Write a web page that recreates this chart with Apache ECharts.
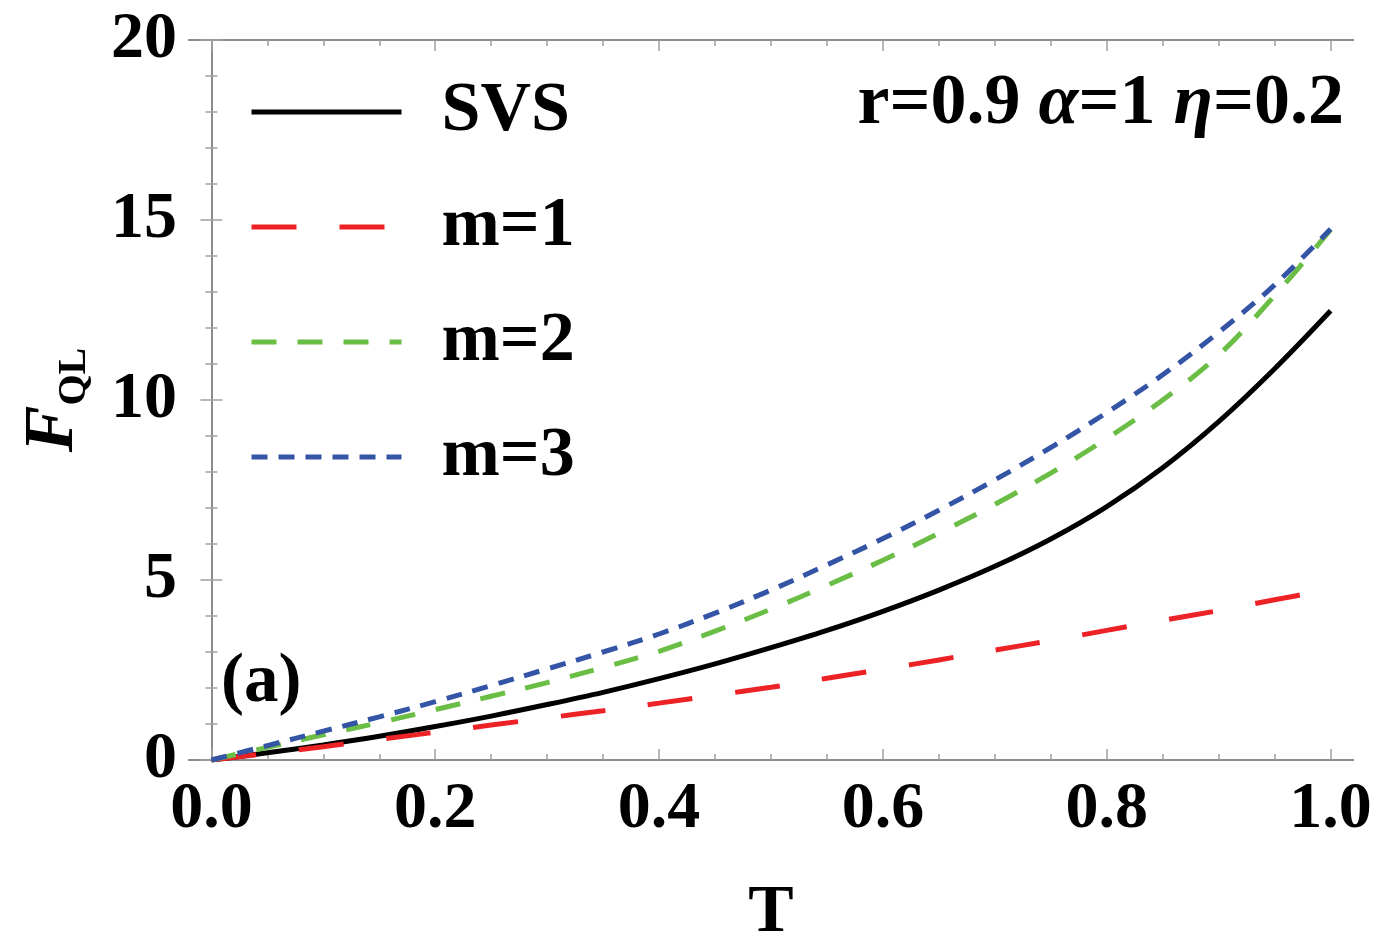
<!DOCTYPE html>
<html>
<head>
<meta charset="utf-8">
<script src="https://cdn.jsdelivr.net/npm/echarts@6/dist/echarts.min.js"></script>
<style>html,body{margin:0;padding:0;background:#fff;}#c{width:1378px;height:952px;}</style>
</head>
<body>
<div id="c"></div>
<script>
const T = [0,0.05,0.1,0.15,0.2,0.25,0.3,0.35,0.4,0.45,0.5,0.55,0.6,0.65,0.7,0.75,0.8,0.85,0.9,0.95,1.0];
const svs = [0,0.2,0.42,0.66,0.93,1.22,1.54,1.88,2.26,2.67,3.12,3.6,4.13,4.72,5.38,6.14,7.04,8.12,9.4,10.87,12.48];
const m1  = [0,0.18,0.37,0.57,0.77,0.97,1.17,1.37,1.58,1.8,2.02,2.27,2.52,2.78,3.05,3.32,3.6,3.88,4.15,4.45,4.74];
const m2  = [0,0.35,0.7,1.04,1.4,1.77,2.15,2.57,3.02,3.58,4.19,4.85,5.55,6.3,7.1,7.97,8.93,10.0,11.25,12.9,14.73];
const m3  = [0,0.4,0.8,1.2,1.62,2.07,2.53,3.0,3.5,4.08,4.72,5.42,6.15,6.94,7.78,8.68,9.65,10.7,11.88,13.2,14.75];
const seriesNames = ['SVS','m=1','m=2','m=3'];
const xMajor = [0,0.2,0.4,0.6,0.8,1.0];
const xMinor = [0.05,0.1,0.15,0.25,0.3,0.35,0.45,0.5,0.55,0.65,0.7,0.75,0.85,0.9,0.95];
const yTicks = [0,5,10,15,20];

const FONT = "'Liberation Serif','Times New Roman',serif";
const frameColor = '#8c8c8c';
const tickColor = '#a0a0a0';

function xAxisDef(pos, values, len, labels) {
  return {
    type: 'value', min: -0.02, max: 1.02, position: pos,
    axisLine: {show: true, lineStyle: {color: frameColor, width: 2}},
    splitLine: {show: false},
    axisTick: {show: true, inside: true, length: len, customValues: values, lineStyle: {color: tickColor, width: 1.5}},
    axisLabel: labels ? {show: true, customValues: values, margin: 17, color: '#000', fontFamily: FONT, fontWeight: 'bold', fontSize: 66,
      formatter: v => Number(v).toFixed(1)} : {show: false},
    name: (labels && pos === 'bottom') ? 'T' : '',
    nameLocation: 'middle', nameGap: 119,
    nameTextStyle: {color: '#000', fontFamily: FONT, fontWeight: 'bold', fontSize: 68}
  };
}
function yAxisDef(pos, labels) {
  return {
    type: 'value', min: yTicks[0], max: yTicks[yTicks.length-1], interval: 5, position: pos,
    axisLine: {show: true, lineStyle: {color: frameColor, width: 2}},
    splitLine: {show: false},
    axisTick: {show: true, inside: true, length: 11, lineStyle: {color: tickColor, width: 1.5}},
    minorTick: {show: true, splitNumber: 5, length: 6, lineStyle: {color: tickColor, width: 1.5}},
    axisLabel: labels ? {show: true, margin: 12, color: '#000', fontFamily: FONT, fontWeight: 'bold', fontSize: 66} : {show: false},
    name: labels ? '{f|F}{s|QL}' : '',
    nameLocation: 'middle', nameRotate: 90, nameGap: 100,
    nameTextStyle: {
      color: '#000',
      rich: {
        f: {fontFamily: FONT, fontStyle: 'italic', fontWeight: 'bold', fontSize: 70, color: '#000', verticalAlign: 'bottom', lineHeight: 70},
        s: {fontFamily: FONT, fontWeight: 'bold', fontSize: 40, color: '#000', verticalAlign: 'bottom', lineHeight: 40, padding: [0,0,-6,0]}
      }
    }
  };
}

const colors = ['#000000', '#ED2227', '#6BBE45', '#3454A6'];
const dashes = ['solid', [45, 43], [25, 21], [16, 11]];
const datasets = [svs, m1, m2, m3];

const option = {
  animation: false,
  backgroundColor: '#fff',
  grid: {left: 189, top: 40, width: 1164, height: 720, containLabel: false},
  xAxis: [
    xAxisDef('bottom', xMajor, 11, true),
    xAxisDef('bottom', xMinor, 6, false),
    xAxisDef('top', xMajor, 11, false),
    xAxisDef('top', xMinor, 6, false)
  ],
  yAxis: [yAxisDef('left', true), yAxisDef('right', false)],
  legend: {
    orient: 'vertical', left: 244, top: 72,
    itemWidth: 150, itemHeight: 2, itemGap: 45,
    data: seriesNames,
    lineStyle: {width: 5},
    itemStyle: {opacity: 0},
    textStyle: {fontFamily: FONT, fontWeight: 'bold', fontSize: 70, color: '#000', lineHeight: 66, padding: [0,0,0,35]}
  },
  graphic: [
    {type: 'text', x: 1344, y: 104, style: {
      text: '{b|r=0.9 }{i|α}{b|=1 }{i|η}{b|=0.2}', align: 'right', verticalAlign: 'middle',
      rich: {
        b: {fontFamily: FONT, fontWeight: 'bold', fontSize: 72, fill: '#000'},
        i: {fontFamily: FONT, fontWeight: 'bold', fontStyle: 'italic', fontSize: 72, fill: '#000'}
      }}},
    {type: 'text', x: 221, y: 683, style: {
      text: '(a)', align: 'left', verticalAlign: 'middle',
      font: "bold 69px 'Liberation Serif','Times New Roman',serif", fill: '#000'}}
  ],
  series: seriesNames.map((n, k) => ({
    name: n, type: 'line', xAxisIndex: 0, yAxisIndex: 0,
    data: T.map((t, i) => [t, datasets[k][i]]),
    smooth: 0.35, symbol: 'none', showSymbol: false,
    lineStyle: {color: colors[k], width: 5, type: dashes[k], cap: 'butt'},
    itemStyle: {color: colors[k]},
    z: 2 + k
  }))
};

const chart = echarts.init(document.getElementById('c'), null, {renderer: 'canvas'});
chart.setOption(option);
</script>
</body>
</html>
